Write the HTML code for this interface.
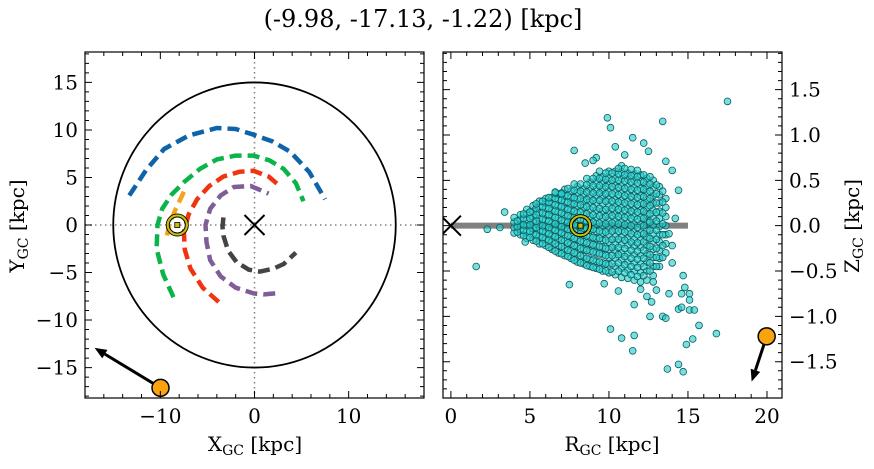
<!DOCTYPE html>
<html><head><meta charset="utf-8">
<style>
html,body{margin:0;padding:0;background:#fff;}
svg text{font-family:"DejaVu Serif","Liberation Serif",serif;fill:#000;}
</style></head>
<body>
<svg id="fig" width="874" height="464" viewBox="0 0 874 464" xmlns="http://www.w3.org/2000/svg">
<text x="423" y="27" font-size="24" text-anchor="middle">(-9.98, -17.13, -1.22) [kpc]</text>
</svg>
<script>
// ---- data ----
const armBlue = [[-13.3,3.1],[-11.5,5.8],[-9.6,8.0],[-7,9.4],[-4.0,10.2],[-2,10.1],[-0.1,9.5],[1.9,8.8],[3.8,7.7],[5.8,5.6],[7.5,2.7]];
const armGreen = [[-8.6,-7.6],[-9.7,-5.2],[-10.4,-2.5],[-10.3,0],[-9.8,1.7],[-8.8,3.2],[-7.5,4.5],[-5.8,5.9],[-4.0,6.9],[-2,7.3],[-0.1,7.3],[1.6,6.8],[3.1,5.9],[4.4,4.4],[5.2,2.5]];
const armRed = [[-3.8,-8.1],[-5.5,-6.6],[-6.8,-4.6],[-7.4,-2.6],[-7.5,-0.7],[-7.0,1.1],[-6.1,2.7],[-4.8,4.1],[-3.3,5.1],[-1.6,5.6],[-0.1,5.7],[1.5,5.1],[2.8,4.0]];
const armPurple = [[2.2,-7.2],[1,-7.3],[-0.1,-7.2],[-2,-6.6],[-3.6,-5.4],[-4.7,-3.7],[-5.1,-1.8],[-5.2,0],[-4.7,1.7],[-3.6,3.1],[-2.2,4.0],[-0.4,4.1],[1.5,3.3]];
const armGrey = [[-3.3,0.8],[-3.4,-0.2],[-3.3,-1.1],[-2.8,-2.7],[-1.9,-3.9],[-0.6,-4.7],[0.6,-4.9],[2.0,-4.6],[3.1,-4.1],[4.4,-2.9]];
const armOrange = [[-7.5,3.5],[-8.4,1.6],[-9.0,0.2],[-9.3,-1.1]];
const sunXY = [-8.2, 0];
const objXY = [-9.98, -17.13];
const objVelXY = [-7.0, 4.2];
const objRZ = [19.98, -1.22];
const objVelRZ = [-0.95, -0.5];
const sunRZ = [8.2, 0.0];
const outR = [17.5,9.9,10.1,13.4,11.5,12.2,7.8,10.4,12.5,8.5,9.2,13.6,14.0,14.4,6.6,7.0,3.4,2.3,3.1,1.6,4.7,7.5,9.7,11.6,10.1,10.8,11.6,11.5,12.4,12.7,13.0,12.8,12.6,13.4,13.6,13.8,14.7,14.8,14.6,15.1,15.1,14.4,14.6,15.1,15.4,15.7,16.8,15.3,14.9,13.7,14.4,14.7,14.0,14.2,13.8,14.0,11.0,12.0,9.0,10.6];
const outZ = [1.37,1.19,1.08,1.15,0.97,0.91,0.83,0.87,0.82,0.69,0.75,0.71,0.61,0.39,0.37,0.35,0.15,-0.04,-0.02,-0.45,-0.18,-0.65,-0.64,-0.87,-1.14,-1.24,-1.21,-1.38,-0.78,-0.84,-0.71,-0.62,-1.0,-1.0,-1.02,-0.75,-0.55,-0.68,-0.75,-0.75,-0.82,-0.92,-0.90,-0.93,-0.93,-1.10,-1.19,-1.25,-1.31,-1.58,-1.53,-1.61,-0.22,0.08,-0.09,-0.41,0.78,-0.7,0.72,-0.72];
const colR = [4.0,4.4,4.8,5.2,5.6,6.0,6.4,6.8,7.2,7.6,8.0,8.4,8.8,9.2,9.6,10.0,10.4,10.8,11.2,11.6,12.0,12.4,12.8,13.2,13.6];
const colZ = [
[-0.08,-0.02,0.04,0.09],
[-0.1,-0.04,0.02,0.07,0.12],
[-0.14,-0.07,0,0.06,0.13,0.18],
[-0.16,-0.09,-0.03,0.04,0.1,0.16,0.22],
[-0.2,-0.12,-0.05,0.02,0.08,0.15,0.21,0.27],
[-0.22,-0.15,-0.08,-0.01,0.06,0.12,0.19,0.25,0.3],
[-0.26,-0.18,-0.11,-0.04,0.03,0.1,0.17,0.24,0.31],
[-0.3,-0.22,-0.14,-0.07,0,0.08,0.15,0.22,0.29,0.35],
[-0.33,-0.25,-0.17,-0.1,-0.03,0.05,0.12,0.19,0.26,0.33,0.4],
[-0.36,-0.28,-0.2,-0.12,-0.05,0.02,0.09,0.17,0.24,0.31,0.38],
[-0.4,-0.31,-0.23,-0.15,-0.08,0,0.07,0.14,0.22,0.29,0.36,0.43],
[-0.42,-0.34,-0.26,-0.18,-0.1,-0.03,0.05,0.12,0.2,0.27,0.34,0.41],
[-0.45,-0.37,-0.28,-0.2,-0.12,-0.05,0.03,0.1,0.18,0.26,0.33,0.41,0.48],
[-0.47,-0.39,-0.3,-0.22,-0.14,-0.06,0.02,0.09,0.17,0.25,0.33,0.4,0.48,0.55],
[-0.5,-0.41,-0.32,-0.24,-0.16,-0.08,0,0.08,0.16,0.24,0.32,0.4,0.47,0.54],
[-0.52,-0.43,-0.35,-0.26,-0.18,-0.1,-0.02,0.06,0.14,0.22,0.3,0.38,0.46,0.53,0.6],
[-0.54,-0.45,-0.36,-0.28,-0.2,-0.12,-0.04,0.05,0.13,0.21,0.29,0.37,0.45,0.52,0.6],
[-0.57,-0.47,-0.38,-0.3,-0.21,-0.13,-0.05,0.04,0.12,0.2,0.28,0.36,0.44,0.52,0.59,0.66],
[-0.58,-0.49,-0.4,-0.31,-0.22,-0.14,-0.06,0.03,0.11,0.19,0.27,0.35,0.43,0.51,0.58],
[-0.6,-0.5,-0.41,-0.32,-0.23,-0.15,-0.07,0.02,0.1,0.18,0.26,0.34,0.42,0.5,0.57],
[-0.62,-0.52,-0.42,-0.33,-0.24,-0.16,-0.08,0.01,0.09,0.17,0.25,0.33,0.41,0.49,0.56],
[-0.6,-0.5,-0.4,-0.31,-0.22,-0.13,-0.05,0.04,0.12,0.2,0.28,0.36,0.44,0.52],
[-0.55,-0.45,-0.35,-0.26,-0.17,-0.09,0,0.08,0.17,0.25,0.33,0.42,0.5],
[-0.45,-0.36,-0.27,-0.18,-0.1,-0.01,0.08,0.16,0.25,0.34,0.43],
[-0.3,-0.2,-0.1,0,0.1,0.2,0.3]];
const colR2 = [4.2,4.6,5.0,5.4,5.8,6.2,6.6,7.0,7.4,7.8,8.2,8.6,9.0,9.4,9.8,10.2,10.6,11.0,11.4,11.8,12.2,12.6,13.0,13.4];
const colZ2 = [
[-0.07,-0.01,0.05],
[-0.11,-0.05,0.01,0.08,0.13],
[-0.13,-0.06,0.01,0.08,0.15],
[-0.17,-0.1,-0.02,0.05,0.12,0.19,0.24],
[-0.2,-0.13,-0.06,0.0,0.07,0.14,0.21,0.27],
[-0.24,-0.16,-0.09,-0.02,0.05,0.12,0.19,0.26,0.31],
[-0.28,-0.2,-0.12,-0.05,0.02,0.09,0.16,0.23,0.3,0.36],
[-0.31,-0.23,-0.16,-0.08,-0.01,0.06,0.14,0.21,0.28,0.36],
[-0.34,-0.27,-0.19,-0.11,-0.04,0.04,0.11,0.18,0.26,0.33,0.41],
[-0.38,-0.3,-0.22,-0.14,-0.06,0.01,0.09,0.16,0.24,0.31,0.39,0.46],
[-0.41,-0.33,-0.25,-0.17,-0.09,-0.01,0.07,0.15,0.23,0.3,0.38,0.46],
[-0.44,-0.36,-0.27,-0.19,-0.11,-0.03,0.05,0.13,0.21,0.29,0.37,0.45,0.52],
[-0.46,-0.38,-0.29,-0.21,-0.13,-0.04,0.04,0.12,0.2,0.28,0.36,0.44,0.52],
[-0.48,-0.4,-0.31,-0.23,-0.14,-0.06,0.03,0.11,0.19,0.28,0.36,0.44,0.52,0.6],
[-0.5,-0.42,-0.33,-0.25,-0.16,-0.07,0.02,0.1,0.18,0.27,0.35,0.43,0.51,0.58],
[-0.51,-0.42,-0.33,-0.24,-0.15,-0.06,0.03,0.11,0.19,0.27,0.35,0.43,0.5,0.58],
[-0.5,-0.41,-0.32,-0.24,-0.15,-0.06,0.02,0.1,0.18,0.26,0.34,0.42,0.5,0.57,0.63],
[-0.52,-0.43,-0.34,-0.25,-0.16,-0.07,0.01,0.09,0.17,0.25,0.33,0.41,0.49,0.56,0.63],
[-0.54,-0.45,-0.36,-0.27,-0.18,-0.09,0,0.08,0.16,0.24,0.32,0.4,0.48,0.55,0.62],
[-0.56,-0.46,-0.37,-0.28,-0.19,-0.1,-0.02,0.07,0.15,0.23,0.31,0.39,0.47,0.54,0.61],
[-0.55,-0.45,-0.36,-0.27,-0.18,-0.09,0,0.08,0.16,0.24,0.32,0.4,0.48,0.56],
[-0.5,-0.41,-0.32,-0.23,-0.14,-0.05,0.04,0.13,0.22,0.3,0.38,0.46,0.54],
[-0.45,-0.35,-0.25,-0.15,-0.05,0.05,0.15,0.25,0.35,0.45],
[-0.35,-0.22,-0.1,0.02,0.14,0.26,0.38]];
const leftXTicks = [-10,0,10];
const leftYTicks = [-15,-10,-5,0,5,10,15];
const rightXTicks = [0,5,10,15,20];
const rightYTicks = [-1.5,-1.0,-0.5,0.0,0.5,1.0,1.5];

// ---- geometry ----
const NS='http://www.w3.org/2000/svg';
const svg=document.getElementById('fig');
function el(tag,attrs,parent){const e=document.createElementNS(NS,tag);for(const k in attrs)e.setAttribute(k,attrs[k]);(parent||svg).appendChild(e);return e;}
const L={x0:85,x1:424,y0:52,y1:398,xmin:-18,xmax:18,ymin:-18.2,ymax:18.2};
const R={x0:443,x1:782,y0:52,y1:398,xmin:-0.5,xmax:20.95,ymin:-1.9,ymax:1.915};
function sx(P,v){return P.x0+(v-P.xmin)/(P.xmax-P.xmin)*(P.x1-P.x0);}
function sy(P,v){return P.y1-(v-P.ymin)/(P.ymax-P.ymin)*(P.y1-P.y0);}

const defs=el('defs',{});
const cl=el('clipPath',{id:'clipL'},defs);el('rect',{x:L.x0,y:L.y0,width:L.x1-L.x0,height:L.y1-L.y0},cl);
const cr=el('clipPath',{id:'clipR'},defs);el('rect',{x:R.x0,y:R.y0,width:R.x1-R.x0,height:R.y1-R.y0},cr);

// ---- left panel ----
const gL=el('g',{'clip-path':'url(#clipL)'});


const cx0=sx(L,0),cy0=sy(L,0);
let dl=el('line',{x1:cx0,y1:L.y0,x2:cx0,y2:L.y1,stroke:'#808080','stroke-width':1.5,'stroke-dasharray':'1.5,3.5'},gL);

dl=el('line',{x1:L.x0,y1:cy0,x2:L.x1,y2:cy0,stroke:'#808080','stroke-width':1.5,'stroke-dasharray':'1.5,3.5'},gL);

const rc=el('ellipse',{cx:cx0,cy:cy0,rx:sx(L,15)-cx0,ry:cy0-sy(L,15),fill:'none',stroke:'#000','stroke-width':1.8},gL);

function arm(pts,color,name){
  const d=pts.map((p,i)=>(i?'L':'M')+sx(L,p[0]).toFixed(1)+','+sy(L,p[1]).toFixed(1)).join(' ');
  const p=el('path',{d:d,fill:'none',stroke:color,'stroke-width':4.5,'stroke-dasharray':'12,6','stroke-linejoin':'round'},gL);
  
}
arm(armOrange,'#f5a31a','arm-orange');
arm(armBlue,'#0f63a8','arm-blue');
arm(armGreen,'#0ab44a','arm-green');
arm(armRed,'#f0340f','arm-red');
arm(armPurple,'#7d5e98','arm-purple');
arm(armGrey,'#444444','arm-grey');
function xmark(g,x,y,name){const s=10;
  const p=el('path',{d:`M${x-s},${y-s}L${x+s},${y+s}M${x-s},${y+s}L${x+s},${y-s}`,stroke:'#000','stroke-width':2,fill:'none'},g);
  }
xmark(gL,cx0,cy0,'galactic-center-marker');
function sunMark(g,x,y,name){
  const gg=el('g',{},g);
  el('circle',{cx:x,cy:y,r:11,fill:'none',stroke:'#000','stroke-width':1},gg);
  el('circle',{cx:x,cy:y,r:9.5,fill:'none',stroke:'#c8c000','stroke-width':2.2},gg);
  el('circle',{cx:x,cy:y,r:8,fill:'none',stroke:'#000','stroke-width':1},gg);
  el('rect',{x:x-2.5,y:y-2.5,width:5,height:5,fill:'#c8c000',stroke:'#000','stroke-width':0.8},gg);}
sunMark(gL,sx(L,sunXY[0]),sy(L,sunXY[1]),'sun-marker-xy');
function arrow(g,x1,y1,x2,y2,name){
  const ang=Math.atan2(y2-y1,x2-x1),hl=12,hw=5;
  const bx=x2-hl*Math.cos(ang),by=y2-hl*Math.sin(ang);
  const gg=el('g',{},g);
  el('line',{x1:x1,y1:y1,x2:bx,y2:by,stroke:'#000','stroke-width':3},gg);
  el('polygon',{points:`${x2},${y2} ${bx+hw*Math.sin(ang)},${by-hw*Math.cos(ang)} ${bx-hw*Math.sin(ang)},${by+hw*Math.cos(ang)}`,fill:'#000'},gg);}
const oxL=sx(L,objXY[0]),oyL=sy(L,objXY[1]);
arrow(svg,oxL,oyL,sx(L,objXY[0]+objVelXY[0]),sy(L,objXY[1]+objVelXY[1]),'velocity-arrow-xy');
let od=el('circle',{cx:oxL,cy:oyL,r:8.5,fill:'#f9a40f',stroke:'#000','stroke-width':1.5});


// ---- right panel ----
const gR=el('g',{'clip-path':'url(#clipR)'});


const band=el('line',{x1:sx(R,0),y1:sy(R,0),x2:sx(R,15),y2:sy(R,0),stroke:'#808080','stroke-width':6},gR);

const gS=el('g',{},gR);

function dot(r,z){const c=el('circle',{cx:sx(R,r).toFixed(1),cy:sy(R,z).toFixed(1),r:3.4,fill:'rgba(30,205,205,0.62)',stroke:'#0f5c5c','stroke-width':0.8},gS);
  }
colR.forEach((r,i)=>colZ[i].forEach(z=>dot(r,z)));
colR2.forEach((r,i)=>colZ2[i].forEach(z=>dot(r,z)));
outR.forEach((r,i)=>dot(r,outZ[i]));
xmark(gR,sx(R,0),sy(R,0),'galactic-center-marker-rz');
sunMark(gR,sx(R,sunRZ[0]),sy(R,sunRZ[1]),'sun-marker-rz');
const oxR=sx(R,objRZ[0]),oyR=sy(R,objRZ[1]);
arrow(svg,oxR,oyR,sx(R,objRZ[0]+objVelRZ[0]),sy(R,objRZ[1]+objVelRZ[1]),'velocity-arrow-rz');
od=el('circle',{cx:oxR,cy:oyR,r:8.5,fill:'#f9a40f',stroke:'#000','stroke-width':1.5});


// ---- axes ----
function fmt(v,dec){return (v<0?'\u2212':'')+Math.abs(v).toFixed(dec);}
function axes(P,xt,xminor,yt,yminor,ydec,yside,name){
  const g=el('g',{});
  el('rect',{x:P.x0,y:P.y0,width:P.x1-P.x0,height:P.y1-P.y0,fill:'none',stroke:'#000','stroke-width':1.2},g);
  let d='';
  for(let v=Math.ceil(P.xmin/xminor)*xminor;v<=P.xmax+1e-9;v+=xminor){const x=sx(P,v);d+=`M${x},${P.y1}v-4M${x},${P.y0}v4`;}
  for(let v=Math.ceil(P.ymin/yminor)*yminor;v<=P.ymax+1e-9;v+=yminor){const y=sy(P,v);d+=`M${P.x0},${y}h4M${P.x1},${y}h-4`;}
  xt.forEach(v=>{const x=sx(P,v);d+=`M${x},${P.y1}v-7M${x},${P.y0}v7`;});
  yt.forEach(v=>{const y=sy(P,v);d+=`M${P.x0},${y}h7M${P.x1},${y}h-7`;});
  el('path',{d:d,stroke:'#000','stroke-width':1,fill:'none'},g);
  xt.forEach(v=>{const t=el('text',{x:sx(P,v),y:P.y1+25,'font-size':20,'text-anchor':'middle'},g);t.textContent=fmt(v,0);
    });
  yt.forEach(v=>{const t=el('text',{x:yside==='left'?P.x0-7:P.x1+7,y:sy(P,v)+7,'font-size':20,'text-anchor':yside==='left'?'end':'start'},g);t.textContent=fmt(v,ydec);
    });
}
axes(L,leftXTicks,2,leftYTicks,1,0,'left','xy-axes');
axes(R,rightXTicks,1,rightYTicks,0.1,1,'right','rz-axes');

function label(x,y,main,sub,rot,name){
  const t=el('text',{x:x,y:y,'font-size':20,'text-anchor':'middle',transform:rot?`rotate(-90 ${x} ${y})`:''});
  
  const a=el('tspan',{},t);a.textContent=main;
  const b=el('tspan',{'font-size':14,dy:4},t);b.textContent=sub;
  const c=el('tspan',{dy:-4},t);c.textContent=' [kpc]';
}
label(255,451,'X','GC',false,'x-axis-title');
label(24,226,'Y','GC',true,'y-axis-title');
label(612,451,'R','GC',false,'r-axis-title');
label(859,226,'Z','GC',true,'z-axis-title');
</script>
</body></html>
